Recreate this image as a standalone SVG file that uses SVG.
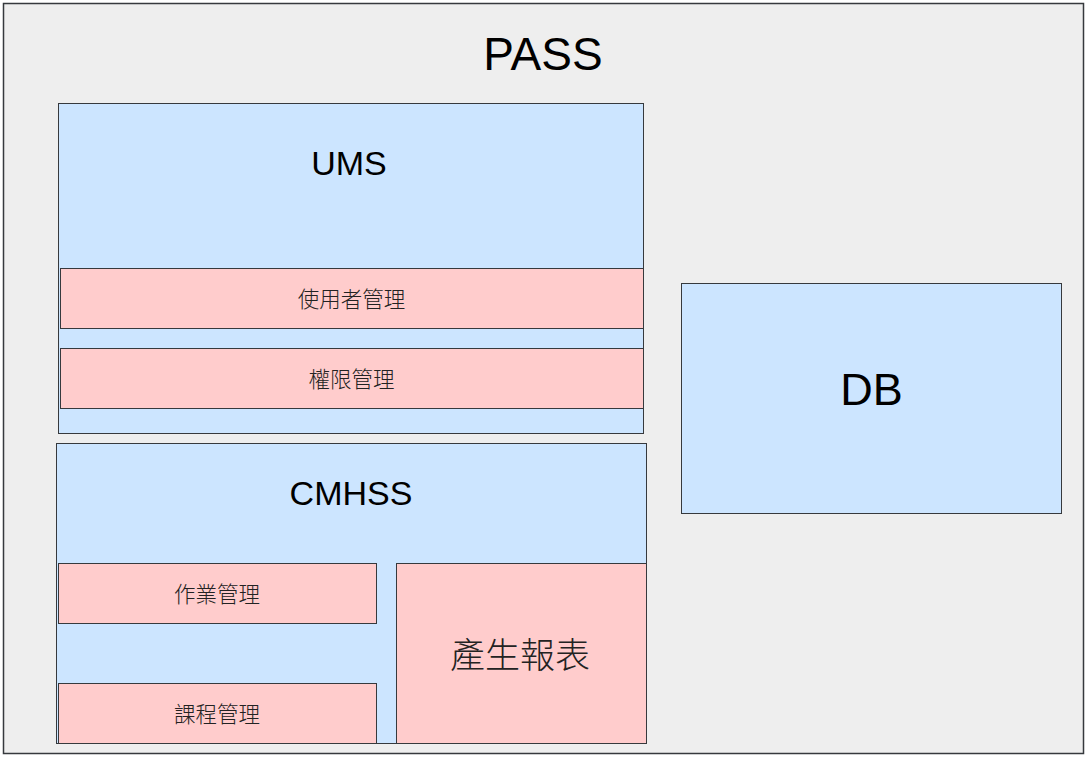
<svg xmlns="http://www.w3.org/2000/svg" width="1087" height="757" viewBox="0 0 1087 757">
<style>
.box{stroke:#36393d;stroke-width:1}
.outer{fill:#eeeeee;stroke:#36393d;stroke-width:1.5}
.blue{fill:#cce5ff}
.pink{fill:#ffcccc}
.lat{font-family:"Liberation Sans",Arial,sans-serif;fill:#000;text-anchor:middle}
.cjk{font-family:"Noto Sans CJK TC","Noto Sans CJK SC",sans-serif;fill:#222;text-anchor:middle;font-weight:300}
</style>
<rect x="0" y="0" width="1087" height="757" fill="#ffffff"/>
<g id="pass">
<rect class="outer" x="3.5" y="3.5" width="1080" height="750"/>
<text class="lat" x="543" y="69.5" font-size="46">PASS</text>
</g>
<g id="ums">
<rect class="box blue" x="58.5" y="103.5" width="585" height="330"/>
<text class="lat" x="349" y="175" font-size="34">UMS</text>
</g>
<g id="user-mgmt">
<rect class="box pink" x="60.5" y="268.5" width="583" height="60"/>
<text class="cjk" x="351.5" y="307" font-size="21.5">使用者管理</text>
</g>
<g id="perm-mgmt">
<rect class="box pink" x="60.5" y="348.5" width="583" height="60"/>
<text class="cjk" x="351.5" y="387" font-size="21.5">權限管理</text>
</g>
<g id="cmhss">
<rect class="box blue" x="56.5" y="443.5" width="590" height="300"/>
<text class="lat" x="351" y="505" font-size="34">CMHSS</text>
</g>
<g id="hw-mgmt">
<rect class="box pink" x="58.5" y="563.5" width="318" height="60"/>
<text class="cjk" x="217" y="602" font-size="21.5">作業管理</text>
</g>
<g id="course-mgmt">
<rect class="box pink" x="58.5" y="683.5" width="318" height="60"/>
<text class="cjk" x="217" y="722" font-size="21.5">課程管理</text>
</g>
<g id="report">
<rect class="box pink" x="396.5" y="563.5" width="250" height="180"/>
<text class="cjk" x="520" y="667.5" font-size="35">產生報表</text>
</g>
<g id="db">
<rect class="box blue" x="681.5" y="283.5" width="380" height="230"/>
<text class="lat" x="871.5" y="405" font-size="45">DB</text>
</g>
<g id="connectors"></g>
</svg>
